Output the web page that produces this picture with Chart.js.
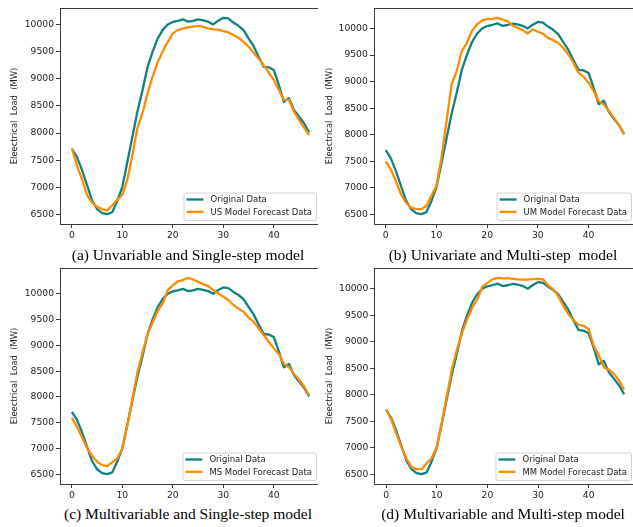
<!DOCTYPE html>
<html>
<head>
<meta charset="utf-8">
<script src="https://cdn.jsdelivr.net/npm/chart.js@4.4.0/dist/chart.umd.min.js"></script>
<style>
  html, body { margin: 0; padding: 0; background: #fff; overflow: hidden; width: 633px; height: 527px; }
  canvas { position: absolute; }
  .caption {
    position: absolute; transform: translateX(-50%); white-space: pre;
    font-family: "Liberation Serif", "Times New Roman", serif; font-size: 15.5px; line-height: 16px; color: #000;
  }
</style>
</head>
<body>
<canvas id="chartA" width="325" height="244" style="left:0;top:0"></canvas>
<canvas id="chartB" width="318" height="244" style="left:318px;top:0"></canvas>
<canvas id="chartC" width="325" height="244" style="left:0;top:260px"></canvas>
<canvas id="chartD" width="318" height="244" style="left:318px;top:260px"></canvas>
<div class="caption" style="left:188px;top:247px">(a) Unvariable and Single-step model</div>
<div class="caption" style="left:503px;top:247px">(b) Univariate and Multi-step  model</div>
<div class="caption" style="left:188px;top:506px">(c) Multivariable and Single-step model</div>
<div class="caption" style="left:503px;top:506px">(d) Multivariable and Multi-step model</div>
<script>
// hour index 0..47
const hours = [0, 1, 2, 3, 4, 5, 6, 7, 8, 9, 10, 11, 12, 13, 14, 15, 16, 17, 18, 19, 20, 21, 22, 23,
  24, 25, 26, 27, 28, 29, 30, 31, 32, 33, 34, 35, 36, 37, 38, 39, 40, 41, 42, 43, 44, 45, 46, 47];

const originalData = [7710, 7560, 7320, 7040, 6760, 6600, 6525, 6505, 6540, 6750, 7010, 7470,
  7935, 8400, 8790, 9220, 9500, 9740, 9900, 10000, 10045, 10065, 10095, 10050,
  10065, 10092, 10075, 10050, 10000, 10070, 10122, 10110, 10035, 9975, 9895, 9745,
  9600, 9405, 9220, 9210, 9160, 8885, 8575, 8640, 8425, 8300, 8180, 8010];

const usForecast = [7720, 7400, 7150, 6860, 6720, 6640, 6600, 6575, 6670, 6770, 6865, 7140,
  7600, 8100, 8370, 8730, 9040, 9310, 9500, 9680, 9835, 9895, 9925, 9945,
  9962, 9975, 9958, 9928, 9908, 9906, 9877, 9853, 9804, 9755, 9680, 9590,
  9480, 9370, 9252, 9112, 8977, 8793, 8609, 8609, 8395, 8241, 8100, 7966];

const umForecast = [7500, 7350, 7130, 6880, 6720, 6630, 6600, 6600, 6660, 6850, 7040, 7570,
  8260, 8950, 9200, 9570, 9730, 9950, 10075, 10150, 10175, 10180, 10200, 10165,
  10138, 10056, 10012, 9969, 9906, 9981, 9937, 9900, 9825, 9780, 9730, 9636,
  9511, 9354, 9167, 9092, 8979, 8822, 8634, 8571, 8446, 8321, 8177, 8020];

const msForecast = [7600, 7420, 7227, 7015, 6861, 6746, 6681, 6662, 6733, 6810, 7003, 7452,
  7965, 8479, 8864, 9217, 9442, 9666, 9814, 10071, 10160, 10237, 10263, 10308,
  10276, 10231, 10186, 10148, 10071, 10006, 9942, 9878, 9782, 9711, 9653, 9538,
  9461, 9326, 9198, 9069, 8941, 8832, 8639, 8575, 8447, 8338, 8203, 8030];

const mmForecast = [7730, 7530, 7270, 7020, 6800, 6640, 6600, 6600, 6710, 6810, 7020, 7490,
  7990, 8490, 8860, 9175, 9425, 9645, 9800, 10040, 10110, 10175, 10205, 10195,
  10200, 10187, 10175, 10170, 10170, 10180, 10187, 10175, 10060, 9990, 9860, 9675,
  9520, 9410, 9320, 9300, 9240, 8925, 8740, 8520, 8475, 8395, 8270, 8100];

const xTicks = [0, 10, 20, 30, 40];
const yTicks = [6500, 7000, 7500, 8000, 8500, 9000, 9500, 10000];
const yTitle = 'Eleectrical  Load  (MW)';

const TEAL = '#0f8181';
const ORANGE = '#ff8c00';
const TICK_FONT = { family: 'DejaVu Sans', size: 9.2 };

// white backdrop so right-hand panels crop the left ones
const whiteBg = {
  id: 'whiteBg',
  beforeDraw(chart) {
    const { ctx } = chart;
    ctx.save();
    ctx.fillStyle = '#fff';
    ctx.fillRect(0, 0, chart.width, chart.height);
    ctx.restore();
  },
};

// axes frame on all four sides
const frame = {
  id: 'frame',
  afterDatasetsDraw(chart) {
    const { ctx, chartArea: a } = chart;
    ctx.save();
    ctx.strokeStyle = '#3a3a3a';
    ctx.lineWidth = 1;
    ctx.strokeRect(Math.round(a.left) + 0.5, Math.round(a.top) + 0.5,
      Math.round(a.right - a.left), Math.round(a.bottom - a.top));
    ctx.restore();
  },
};

// matplotlib-like legend box in the lower right corner
const boxLegend = {
  id: 'boxLegend',
  afterDraw(chart) {
    const { ctx, chartArea: a } = chart;
    const sets = chart.data.datasets;
    ctx.save();
    ctx.font = '8.5px "DejaVu Sans"';
    const textW = Math.max(...sets.map(d => ctx.measureText(d.label).width));
    const w = 3 + 17 + 7 + textW + 4;
    const h = 27.5;
    const x = a.right - 5 - w;
    const y = a.bottom - 4 - h;
    ctx.beginPath();
    ctx.roundRect(x + 0.5, y + 0.5, w, h, 2);
    ctx.fillStyle = 'rgba(255,255,255,0.85)';
    ctx.fill();
    ctx.strokeStyle = '#d4d4d4';
    ctx.lineWidth = 1;
    ctx.stroke();
    sets.forEach((d, i) => {
      const cy = y + 7 + i * 12.3;
      ctx.beginPath();
      ctx.moveTo(x + 3, cy);
      ctx.lineTo(x + 20, cy);
      ctx.strokeStyle = d.borderColor;
      ctx.lineWidth = 2.3;
      ctx.stroke();
      ctx.fillStyle = '#222';
      ctx.textBaseline = 'middle';
      ctx.fillText(d.label, x + 27, cy + 0.5);
    });
    ctx.restore();
  },
};

function makePanel(id, forecast, forecastLabel, axisWidth, titlePad, padRight) {
  const lo = Math.min(...originalData, ...forecast);
  const hi = Math.max(...originalData, ...forecast);
  const margin = (hi - lo) * 0.05;
  const xMargin = (hours[hours.length - 1] - hours[0]) * 0.05;

  const config = {
    type: 'line',
    data: {
      datasets: [
        {
          label: 'Original Data',
          data: hours.map((h, i) => ({ x: h, y: originalData[i] })),
          borderColor: TEAL,
          borderWidth: 2.3,
          order: 1,
        },
        {
          label: forecastLabel,
          data: hours.map((h, i) => ({ x: h, y: forecast[i] })),
          borderColor: ORANGE,
          borderWidth: 2.3,
          order: 0,
        },
      ],
    },
    options: {
      responsive: false,
      animation: false,
      devicePixelRatio: 1,
      layout: { padding: { left: 0, top: 8, right: padRight, bottom: 0 } },
      elements: { point: { radius: 0 }, line: { tension: 0, borderJoinStyle: 'round' } },
      plugins: { legend: { display: false }, tooltip: { enabled: false } },
      scales: {
        x: {
          type: 'linear',
          min: hours[0] - xMargin,
          max: hours[hours.length - 1] + xMargin,
          afterBuildTicks: (s) => { s.ticks = xTicks.map(v => ({ value: v })); },
          afterFit: (s) => { s.height = 20; },
          grid: { drawOnChartArea: false, drawTicks: true, tickLength: 4, color: '#3a3a3a' },
          border: { display: false },
          ticks: { font: TICK_FONT, color: '#222', padding: 2, maxRotation: 0, callback: v => String(v) },
        },
        y: {
          min: lo - margin,
          max: hi + margin,
          afterBuildTicks: (s) => { s.ticks = yTicks.map(v => ({ value: v })); },
          afterFit: (s) => { s.width = axisWidth; },
          grid: { drawOnChartArea: false, drawTicks: true, tickLength: 4, color: '#3a3a3a' },
          border: { display: false },
          ticks: { font: TICK_FONT, color: '#222', padding: 2, callback: v => String(v) },
          title: {
            display: true,
            text: yTitle,
            color: '#222',
            font: { family: 'DejaVu Sans', size: 8.4 },
            padding: { top: titlePad, bottom: 0 },
          },
        },
      },
    },
    plugins: [whiteBg, frame, boxLegend],
  };
  return new Chart(document.getElementById(id), config);
}

makePanel('chartA', usForecast, 'US Model Forecast Data', 60, 10, 4);
makePanel('chartB', umForecast, 'UM Model Forecast Data', 55.8, 7, 0);
makePanel('chartC', msForecast, 'MS Model Forecast Data', 60, 10, 4);
makePanel('chartD', mmForecast, 'MM Model Forecast Data', 56.3, 7, 0);
</script>
</body>
</html>
